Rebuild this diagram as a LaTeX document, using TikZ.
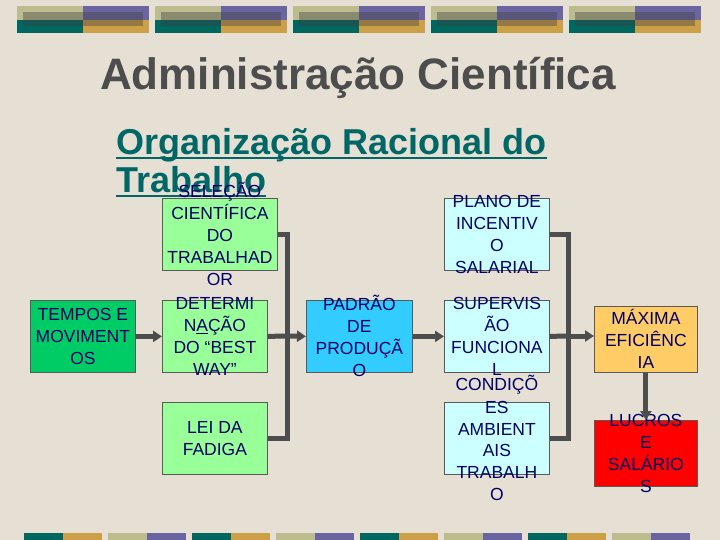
\documentclass[tikz,border=0pt]{standalone}
\usepackage{fontspec}
\setmainfont{Liberation Sans}
\usetikzlibrary{arrows.meta}
\definecolor{bgc}{RGB}{230,224,212}
\definecolor{khaki}{RGB}{188,188,142}
\definecolor{purp}{RGB}{106,101,161}
\definecolor{tealc}{RGB}{0,102,96}
\definecolor{gold}{RGB}{204,160,72}
\definecolor{titlegray}{RGB}{77,77,77}
\definecolor{subteal}{RGB}{0,102,102}
\definecolor{navy}{RGB}{0,0,102}
\definecolor{conngray}{RGB}{77,77,77}
\definecolor{fgreen}{RGB}{0,204,102}
\definecolor{lgreen}{RGB}{153,255,153}
\definecolor{skyb}{RGB}{51,204,255}
\definecolor{lcyan}{RGB}{204,255,255}
\definecolor{lorange}{RGB}{255,204,102}
\definecolor{redc}{RGB}{255,0,0}
\tikzset{
  box/.style={draw=black!65, line width=0.8pt, rectangle, inner sep=0pt, anchor=north west},
  txt/.style={text=navy, align=center, font=\fontsize{17.5}{22}\selectfont, inner sep=0pt},
  conn/.style={draw=conngray, line width=5pt},
  arr/.style={draw=conngray, line width=5pt, -{Triangle[length=9pt,width=11pt]}},
  sub/.style={text=subteal, font=\fontsize{36}{40}\selectfont\bfseries, inner sep=0pt},
  uline/.style={draw=subteal, line width=2.6pt}
}
\begin{document}
\begin{tikzpicture}[x=1pt,y=-1pt]
\useasboundingbox (0,0) rectangle (720,540);
\fill[bgc] (0,0) rectangle (720,540);
% top decoration
\foreach \s in {17,155,293,431,569}{
  \fill[khaki] (\s,6) rectangle (\s+66,20);
  \fill[purp] (\s+66,6) rectangle (\s+132,20);
  \fill[tealc] (\s,20) rectangle (\s+66,33);
  \fill[gold] (\s+66,20) rectangle (\s+132,33);
  \fill[black!75, opacity=0.4] (\s+6,12) rectangle (\s+126,26);
}
% bottom decoration
\foreach \s in {24,192,360,528}{
  \fill[tealc] (\s,533) rectangle (\s+39,540);
  \fill[gold] (\s+39,533) rectangle (\s+78,540);
  \fill[khaki] (\s+84,533) rectangle (\s+123,540);
  \fill[purp] (\s+123,533) rectangle (\s+162,540);
}
% title
\node[text=titlegray, font=\fontsize{44}{50}\selectfont\bfseries, inner sep=0pt, anchor=base] (title) at (358,90) {Administração Científica};
% subtitle
\node[sub, anchor=base west] (s1) at (116,155) {Organização Racional do};
\node[sub, anchor=base west] (s2) at (116,193) {Trabalho};
\draw[uline] ([yshift=-3pt]s1.base west) -- ([yshift=-3pt]s1.base east);
\draw[uline] ([yshift=-3pt]s2.base west) -- ([yshift=-3pt]s2.base east);
% boxes
\node[box, fill=fgreen, minimum width=105pt, minimum height=72pt, label={[txt]center:TEMPOS E\\MOVIMENT\\OS}] (tem) at (30,300) {};
\node[box, fill=lgreen, minimum width=115pt, minimum height=72pt, label={[txt]center:SELEÇÃO\\CIENTÍFICA\\DO\\TRABALHAD\\OR}] (sel) at (162,198) {};
\node[box, fill=lgreen, minimum width=105pt, minimum height=72pt, label={[txt]center:DETERMI\\N\underline{A}ÇÃO\\DO “BEST\\WAY”}] (det) at (162,300) {};
\node[box, fill=lgreen, minimum width=105pt, minimum height=72pt, label={[txt]center:LEI DA\\FADIGA}] (lei) at (162,402) {};
\node[box, fill=skyb, minimum width=106pt, minimum height=72pt, label={[txt]center:PADRÃO\\DE\\PRODUÇÃ\\O}] (pad) at (306,300) {};
\node[box, fill=lcyan, minimum width=105pt, minimum height=72pt, label={[txt]center:PLANO DE\\INCENTIV\\O\\SALARIAL}] (pla) at (444,198) {};
\node[box, fill=lcyan, minimum width=105pt, minimum height=72pt, label={[txt]center:SUPERVIS\\ÃO\\FUNCIONA\\L}] (sup) at (444,300) {};
\node[box, fill=lcyan, minimum width=105pt, minimum height=72pt, label={[txt]center:CONDIÇÕ\\ES\\AMBIENT\\AIS\\TRABALH\\O}] (con) at (444,402) {};
\node[box, fill=lorange, minimum width=103pt, minimum height=66pt, label={[txt]center:MÁXIMA\\EFICIÊNC\\IA}] (max) at (594,306) {};
\node[box, fill=redc, minimum width=103pt, minimum height=66pt, label={[txt]center:LUCROS\\E\\SALÁRIO\\S}] (luc) at (594,420) {};
% connectors
\coordinate (b1) at (287,336);
\coordinate (b2) at (568,336);
\draw[conn] (sel.east) -| (b1) |- (lei.east);
\draw[conn] (det.east) -- (b1);
\draw[arr] (tem.east) -- (det.west);
\draw[arr] (b1) -- (pad.west);
\draw[arr] (pad.east) -- (sup.west);
\draw[conn] (pla.east) -| (b2) |- (con.east);
\draw[conn] (sup.east) -- (b2);
\draw[arr] (b2) -- (max.west |- b2);
\draw[arr] (max.south) -- (luc.north);
\end{tikzpicture}
\end{document}
